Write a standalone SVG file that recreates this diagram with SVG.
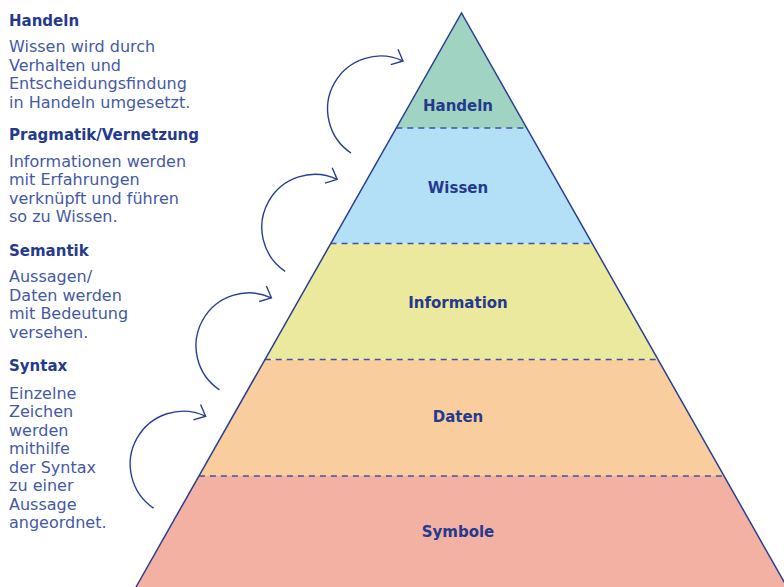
<svg xmlns="http://www.w3.org/2000/svg" width="784" height="587" viewBox="0 0 784 587">
<style>
.h{font-family:"DejaVu Sans",sans-serif;font-weight:bold;font-size:15px;fill:#253a8c}
.b{font-family:"DejaVu Sans",sans-serif;font-size:16px;fill:#4459a5}
.l{font-family:"DejaVu Sans",sans-serif;font-weight:bold;font-size:15px;fill:#253a8c;text-anchor:middle}
.dash{stroke:#45529f;stroke-width:1.7;stroke-dasharray:6 5;fill:none}
.arc{fill:none;stroke:#2a3f93;stroke-width:1.4;marker-end:url(#ah)}
</style>
<defs>
<marker id="ah" markerUnits="userSpaceOnUse" markerWidth="30" markerHeight="30" refX="0" refY="0" viewBox="-15 -15 30 30" orient="auto">
<path d="M-9.5,-8.5 L0,0 L-9.5,8.5" fill="none" stroke="#2a3f93" stroke-width="1.4"/>
</marker>
</defs>
<g id="texts">
<text class="h" x="9" y="26">Handeln</text>
<text class="b" x="9" y="52">Wissen wird durch</text>
<text class="b" x="9" y="70.5">Verhalten und</text>
<text class="b" x="9" y="89">Entscheidungsfindung</text>
<text class="b" x="9" y="107.5">in Handeln umgesetzt.</text>
<text class="h" x="9" y="140">Pragmatik/Vernetzung</text>
<text class="b" x="9" y="166.5">Informationen werden</text>
<text class="b" x="9" y="185">mit Erfahrungen</text>
<text class="b" x="9" y="203.5">verknüpft und führen</text>
<text class="b" x="9" y="222">so zu Wissen.</text>
<text class="h" x="9" y="255.5">Semantik</text>
<text class="b" x="9" y="282">Aussagen/</text>
<text class="b" x="9" y="300.5">Daten werden</text>
<text class="b" x="9" y="319">mit Bedeutung</text>
<text class="b" x="9" y="337.5">versehen.</text>
<text class="h" x="9" y="370.5">Syntax</text>
<text class="b" x="9" y="398.5">Einzelne</text>
<text class="b" x="9" y="417">Zeichen</text>
<text class="b" x="9" y="435.5">werden</text>
<text class="b" x="9" y="454">mithilfe</text>
<text class="b" x="9" y="472.5">der Syntax</text>
<text class="b" x="9" y="491">zu einer</text>
<text class="b" x="9" y="509.5">Aussage</text>
<text class="b" x="9" y="528">angeordnet.</text>
</g>
<g id="pyramid">
<g id="symbole">
<polygon points="198.9,476 724.1,476 787,587 136,587" fill="#f3b1a4"/>
<text class="l" x="458" y="537">Symbole</text>
</g>
<g id="daten">
<polygon points="264.7,359.5 658.3,359.5 724.1,476 198.9,476" fill="#f9cd9e"/>
<text class="l" x="458" y="422">Daten</text>
</g>
<g id="information">
<polygon points="330.5,243.5 592.5,243.5 658.3,359.5 264.7,359.5" fill="#ebe99e"/>
<text class="l" x="458" y="308">Information</text>
</g>
<g id="wissen">
<polygon points="396.3,128 526.7,128 592.5,243.5 330.5,243.5" fill="#b3dff7"/>
<text class="l" x="458" y="193">Wissen</text>
</g>
<g id="handeln">
<polygon points="461.5,13 526.7,128 396.3,128" fill="#a0d3c2"/>
<text class="l" x="458" y="111">Handeln</text>
</g>
<line class="dash" x1="396.3" y1="128" x2="526.7" y2="128"/>
<line class="dash" x1="330.5" y1="243.5" x2="592.5" y2="243.5"/>
<line class="dash" x1="264.7" y1="359.5" x2="658.3" y2="359.5"/>
<line class="dash" x1="198.9" y1="476" x2="724.1" y2="476"/>
<polyline points="136,587 461.5,13 787,587" fill="none" stroke="#2a3f93" stroke-width="1.5"/>
</g>
<g id="connectors">
<path class="arc" d="M351,153 A53,53 0 0 1 403,61"/>
<path class="arc" d="M285.2,271.4 A53,53 0 0 1 337.2,179.4"/>
<path class="arc" d="M219.4,389.8 A53,53 0 0 1 271.4,297.8"/>
<path class="arc" d="M153.6,508.2 A53,53 0 0 1 205.6,416.2"/>
</g>
</svg>
